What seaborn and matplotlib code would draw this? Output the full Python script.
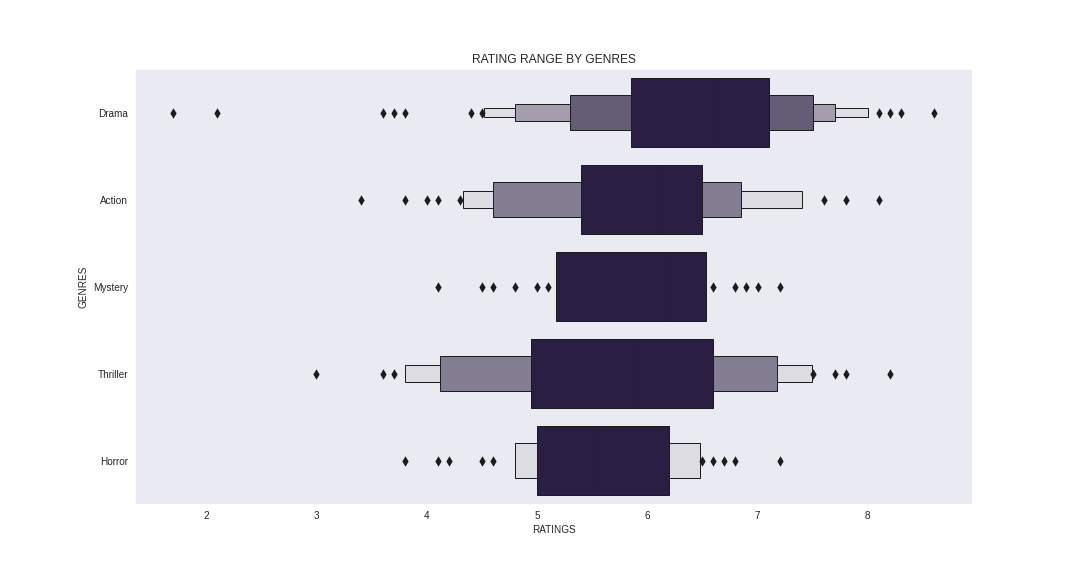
import numpy as np
import pandas as pd
import matplotlib.pyplot as plt
import seaborn as sns

genres = ["Drama", "Action", "Mystery", "Thriller", "Horror"]

# letter-value boxes (low, high), innermost first
drama_boxes = [(5.85, 7.1), (5.3, 7.5), (4.8, 7.7), (4.52, 8.0)]
action_boxes = [(5.4, 6.5), (4.6, 6.85), (4.33, 7.4)]
mystery_boxes = [(5.17, 6.53)]
thriller_boxes = [(4.95, 6.6), (4.12, 7.18), (3.8, 7.49)]
horror_boxes = [(5.0, 6.2), (4.8, 6.48)]

medians = [6.6, 6.1, 6.2, 5.9, 5.5]

drama_out = [1.7, 2.1, 3.6, 3.7, 3.8, 4.4, 4.5, 8.1, 8.2, 8.3, 8.6]
action_out = [3.4, 3.8, 4.0, 4.1, 4.3, 7.6, 7.8, 8.1]
mystery_out = [4.1, 4.5, 4.6, 4.8, 5.0, 5.1, 6.6, 6.8, 6.9, 7.0, 7.2]
thriller_out = [3.0, 3.6, 3.7, 7.5, 7.7, 7.8, 8.2]
horror_out = [3.8, 4.1, 4.2, 4.5, 4.6, 6.5, 6.6, 6.7, 6.8, 7.2]

all_boxes = [drama_boxes, action_boxes, mystery_boxes, thriller_boxes, horror_boxes]
all_out = [drama_out, action_out, mystery_out, thriller_out, horror_out]

# shades from dark to light, by number of levels
shades = {
    1: ["#2a1f42"],
    2: ["#2a1f42", "#dedce3"],
    3: ["#2a1f42", "#847e92", "#dedce3"],
    4: ["#2a1f42", "#655c75", "#a39dad", "#e0dee5"],
}

sns.set_style("dark")
plt.rcParams["font.family"] = ["Liberation Sans", "DejaVu Sans"]

fig, ax = plt.subplots(figsize=(15, 8), dpi=72)
fig.subplots_adjust(left=0.125, right=0.9, top=0.88, bottom=0.125)

for i, boxes in enumerate(all_boxes):
    cols = shades[len(boxes)]
    for k in range(len(boxes) - 1, -1, -1):
        lo, hi = boxes[k]
        ax.barh(i, hi - lo, left=lo, height=0.8 * 0.5 ** k,
                color=cols[k], edgecolor="#1c1c1c", linewidth=1, zorder=2)
    h = 0.8
    ax.vlines(medians[i], i - h / 2, i + h / 2, color="#271d3e", linewidth=0.6, zorder=3)

out_df = pd.DataFrame({
    "rating": [v for vals in all_out for v in vals],
    "pos": [i for i, vals in enumerate(all_out) for _ in vals],
})
sns.scatterplot(data=out_df, x="rating", y="pos", marker="d", s=55,
                color="#1c1c1c", linewidth=0, ax=ax, zorder=4)

ax.set_yticks(range(len(genres)), genres)
ax.set_ylim(len(genres) - 0.5, -0.5)
ax.set_xlim(1.355, 8.945)
ax.set_xticks([2, 3, 4, 5, 6, 7, 8])
ax.tick_params(axis="both", labelsize=10, length=3.5, pad=3.5)
ax.set_title("RATING RANGE BY GENRES", fontsize=12)
ax.set_xlabel("RATINGS", fontsize=10)
ax.set_ylabel("GENRES", fontsize=10)

plt.savefig("out.png")
